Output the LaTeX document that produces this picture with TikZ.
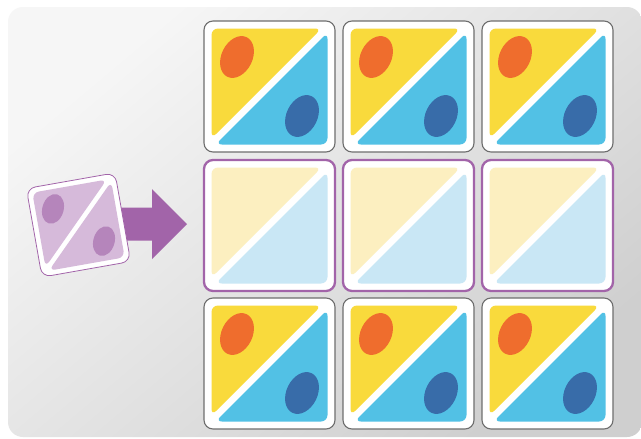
\documentclass[tikz,border=0pt]{standalone}
\definecolor{bgtop}{HTML}{F6F6F6}
\definecolor{bgbot}{HTML}{CFCFCF}
\definecolor{tyellow}{HTML}{F9DA3C}
\definecolor{tblue}{HTML}{52C1E5}
\definecolor{torange}{HTML}{EF6D2D}
\definecolor{tdark}{HTML}{386CA9}
\definecolor{pyellow}{HTML}{FCEFC0}
\definecolor{pblue}{HTML}{C9E7F5}
\definecolor{tgray}{HTML}{6E6E6E}
\definecolor{tpurple}{HTML}{A264A9}
\definecolor{lpurple}{HTML}{D6BADA}
\definecolor{mpurple}{HTML}{B585BB}
% tile drawn around the local origin: border colour, border width, two halves, two spots
\newcommand{\mytile}[6]{%
  \draw[draw=#1, line width=#2, fill=white, rounded corners=9] (-65.5,-65.5) rectangle (65.5,65.5);
  \fill[#3, rounded corners=6.5] (-58,-58) -- (52,-58) -- (-58,52) -- cycle;
  \fill[#4, rounded corners=6.5] (58,-54) -- (58,58) -- (-54,58) -- cycle;
  \fill[#5, rotate around={-26:(-32.5,-29.5)}] (-32.5,-29.5) ellipse [x radius=15.5, y radius=22];
  \fill[#6, rotate around={-26:(32.5,29.5)}] (32.5,29.5) ellipse [x radius=15.5, y radius=22];
}
\newcommand{\fulltile}{\mytile{tgray}{1.1pt}{tyellow}{tblue}{torange}{tdark}}
\newcommand{\paletile}{\mytile{tpurple}{2.3pt}{pyellow}{pblue}{pyellow}{pblue}}
\newcommand{\movetile}{\mytile{tpurple}{0.8pt}{lpurple}{lpurple}{mpurple}{mpurple}}
\begin{document}
\begin{tikzpicture}[x=1pt,y=-1pt]
\useasboundingbox (0,0) rectangle (641,439);
\fill[white] (0,0) rectangle (641,439);
\shade[top color=bgtop, bottom color=bgbot, shading angle=40, rounded corners=15] (8,7) rectangle (642,437);
% grid of tiles
\begin{scope}[shift={(269.5,86.5)}]\fulltile\end{scope}
\begin{scope}[shift={(408.5,86.5)}]\fulltile\end{scope}
\begin{scope}[shift={(547.5,86.5)}]\fulltile\end{scope}
\begin{scope}[shift={(269.5,225.5)}]\paletile\end{scope}
\begin{scope}[shift={(408.5,225.5)}]\paletile\end{scope}
\begin{scope}[shift={(547.5,225.5)}]\paletile\end{scope}
\begin{scope}[shift={(269.5,363.5)}]\fulltile\end{scope}
\begin{scope}[shift={(408.5,363.5)}]\fulltile\end{scope}
\begin{scope}[shift={(547.5,363.5)}]\fulltile\end{scope}
% arrow
\fill[tpurple] (110,207.5) -- (152,207.5) -- (152,189) -- (187,224) -- (152,259) -- (152,240.5) -- (110,240.5) -- cycle;
% moving tile
\begin{scope}[shift={(78.5,225)}, rotate=10, scale=0.687]\movetile\end{scope}
\end{tikzpicture}
\end{document}
